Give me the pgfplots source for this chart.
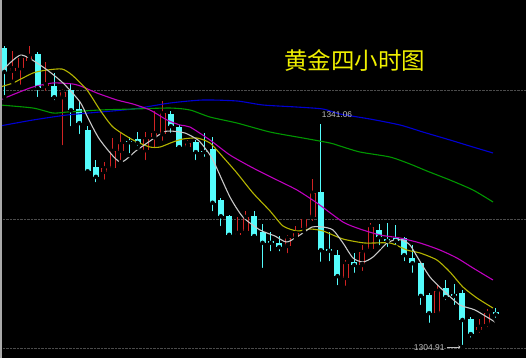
\documentclass[border=0pt]{standalone}
\usepackage{pgfplots}
\pgfplotsset{compat=1.18}
\usepackage{pgfplotstable}
\usetikzlibrary{arrows.meta}
\usepackage{fontspec}
\setmainfont{Liberation Sans}
\newfontfamily\cjk{Noto Sans CJK SC}
\definecolor{cyanC}{RGB}{84,252,252}
\definecolor{redC}{RGB}{210,35,35}
\definecolor{grayL}{RGB}{200,200,200}
\definecolor{yellowL}{RGB}{180,180,0}
\definecolor{magL}{RGB}{190,0,190}
\definecolor{greenL}{RGB}{0,150,0}
\definecolor{blueL}{RGB}{0,0,210}
\definecolor{titleC}{RGB}{240,240,0}
\definecolor{labC}{RGB}{190,190,190}
\definecolor{gridC}{RGB}{75,75,75}
\definecolor{edgeC}{RGB}{170,170,170}

% up (red, hollow) candles: index open high low close
\pgfplotstableread{
i o h l c
1 1349.7 1352.9 1347.9 1350.1
2 1350.1 1352.2 1347.1 1351.8
3 1351.3 1353.7 1351.0 1352.1
5 1347.2 1351.1 1346.1 1347.5
7 1345.4 1346.7 1337.3 1346.3
12 1333.3 1334.9 1331.7 1333.9
13 1333.9 1338.8 1333.3 1336.7
14 1336.7 1339.8 1334.9 1337.8
17 1336.8 1339.8 1334.9 1338.6
18 1338.9 1343.2 1336.8 1339.6
19 1339.4 1344.8 1338.0 1342.8
22 1337.3 1338.5 1336.7 1338.0
28 1323.1 1326.0 1322.9 1323.4
29 1323.7 1327.0 1323.1 1326.0
34 1321.3 1323.1 1319.8 1322.6
35 1322.7 1324.5 1322.3 1323.4
36 1324.2 1326.0 1323.6 1325.7
37 1326.0 1332.1 1325.0 1329.9
41 1316.1 1319.0 1314.5 1318.4
43 1318.2 1321.4 1316.9 1320.3
44 1320.8 1325.0 1320.1 1324.4
52 1310.4 1315.0 1309.8 1314.0
57 1307.7 1309.5 1306.9 1308.2
58 1308.6 1311.1 1307.8 1310.4
}\up

% down (cyan, filled) candles: index open high low close
\pgfplotstableread{
i o h l c
0 1353.4 1353.7 1345.4 1349.5
4 1352.4 1352.7 1345.1 1346.9
6 1347.2 1349.3 1344.6 1345.4
8 1346.6 1347.7 1340.4 1343.3
9 1343.5 1344.6 1339.1 1341.2
10 1340.1 1340.7 1332.8 1333.4
11 1334.1 1335.2 1331.3 1332.5
15 1338.3 1338.9 1336.0 1338.1
16 1338.6 1339.8 1337.2 1338.0
20 1342.7 1343.2 1339.3 1340.7
21 1340.6 1340.9 1336.8 1337.3
23 1338.1 1338.5 1334.9 1336.5
24 1336.7 1339.6 1335.4 1336.5
25 1337.0 1338.9 1326.6 1328.3
26 1328.7 1329.1 1324.2 1326.1
27 1326.1 1326.3 1322.9 1323.1
30 1326.1 1327.0 1322.6 1322.9
31 1323.6 1324.9 1317.4 1321.8
32 1322.1 1323.6 1320.1 1321.8
33 1321.8 1322.9 1320.1 1321.1
38 1330.0 1341.06 1318.4 1320.6
39 1320.8 1323.6 1318.5 1320.5
40 1319.8 1320.6 1314.6 1316.4
42 1318.7 1320.2 1316.6 1318.2
45 1323.9 1324.9 1321.1 1322.7
46 1322.4 1325.0 1320.8 1322.1
47 1322.6 1324.7 1321.1 1322.1
48 1322.6 1322.7 1318.5 1319.8
49 1319.3 1321.4 1316.6 1318.5
50 1318.5 1318.7 1311.4 1313.2
51 1313.3 1313.7 1308.5 1310.4
53 1314.5 1315.8 1312.2 1313.0
54 1313.5 1315.1 1311.4 1313.2
55 1313.7 1314.2 1304.91 1309.3
56 1309.5 1309.8 1306.1 1307.0
59 1310.6 1311.2 1309.3 1310.2
}\down

\begin{document}
\begin{tikzpicture}
\begin{axis}[
  scale only axis, width=526pt, height=358pt,
  xmin=-0.516, xmax=62.63, ymin=1303.13, ymax=1361.16,
  axis background/.style={fill=black},
  axis line style={draw=none},
  xtick=\empty, ytick={1304.75,1325.66,1346.57}, yticklabels={},
  yticklabel style={overlay},
  major tick length=0pt,
  ymajorgrids, grid style={densely dotted, draw=gridC, line width=0.8pt},
  candle/.style={only marks, mark=none, forget plot,
    error bars/y dir=plus, error bars/y explicit, error bars/error mark=none},
]
% cyan candles
\addplot[candle, error bars/error bar style={draw=cyanC, line width=1pt}]
  table[x=i, y=l, y error plus expr={\thisrow{h}-\thisrow{l}}] {\down};
\addplot[candle, error bars/error bar style={draw=cyanC, line width=6pt}]
  table[x=i, y=c, y error plus expr={max(\thisrow{o}-\thisrow{c},0.18)}] {\down};
% red candles
\addplot[candle, error bars/error bar style={draw=redC, line width=1pt}]
  table[x=i, y=l, y error plus expr={\thisrow{o}-\thisrow{l}}] {\up};
\addplot[candle, error bars/error bar style={draw=redC, line width=1pt}]
  table[x=i, y=c, y error plus expr={\thisrow{h}-\thisrow{c}}] {\up};
\addplot[candle, error bars/error bar style={draw=redC, line width=6pt}]
  table[x=i, y=o, y error plus expr={max(\thisrow{c}-\thisrow{o},0.18)}] {\up};
\addplot[candle, error bars/error bar style={draw=black, line width=4pt}]
  table[x=i, y expr={\thisrow{o}+0.165}, y error plus expr={max(\thisrow{c}-\thisrow{o}-0.33,0)}] {\up};

% moving average lines
\addplot[blueL, line width=1.1pt, smooth, tension=0.4] coordinates {
(-0.52,1340.74) (3.45,1341.71) (7.53,1342.52) (11.49,1343.00) (15.45,1343.49)
(19.89,1344.46) (23.85,1344.95) (27.93,1344.79) (31.06,1344.14) (35.14,1343.81)
(38.26,1343.49) (40.30,1342.68) (43.90,1341.87) (47.50,1340.90) (50.26,1339.76)
(53.50,1338.47) (56.27,1337.33) (58.67,1336.36)};
\addplot[greenL, line width=1.1pt, smooth, tension=0.4] coordinates {
(-0.52,1344.14) (3.45,1343.65) (5.85,1342.84) (7.53,1343.00) (11.49,1343.33)
(15.45,1343.49) (19.89,1343.65) (22.29,1343.33) (24.69,1342.19) (27.93,1341.22)
(31.90,1339.76) (35.86,1338.79) (39.10,1337.98) (40.30,1337.49) (42.70,1336.52)
(46.30,1335.71) (48.70,1334.58) (50.74,1333.44) (53.50,1331.98) (56.27,1330.36)
(58.67,1328.42)};
\addplot[magL, line width=1.1pt, smooth, tension=0.4] coordinates {
(-0.52,1344.95) (1.52,1346.08) (3.45,1347.06) (5.85,1347.71) (8.25,1347.54)
(9.45,1347.06) (11.13,1346.08) (13.53,1344.95) (15.45,1344.30) (17.49,1343.33)
(19.53,1341.71) (21.09,1340.90) (22.29,1340.57) (24.69,1338.47) (27.09,1336.03)
(29.86,1333.93) (32.74,1331.98) (35.14,1330.36) (37.54,1328.25) (40.66,1325.17)
(42.70,1324.04) (45.10,1323.07) (47.50,1322.58) (49.92,1321.77) (52.30,1320.63)
(54.34,1319.34) (56.27,1317.72) (58.67,1315.77)};
\addplot[yellowL, line width=1.1pt, smooth, tension=0.4] coordinates {
(-0.52,1347.06) (1.04,1347.71) (3.45,1349.33) (5.13,1349.81) (6.93,1349.97)
(8.13,1349.00) (9.93,1346.57) (11.49,1343.33) (13.05,1340.57) (15.45,1338.47)
(17.49,1337.33) (18.69,1337.33) (20.25,1338.14) (21.45,1338.63) (23.13,1338.79)
(24.69,1337.98) (26.25,1335.71) (27.93,1333.12) (29.86,1329.87) (31.90,1326.96)
(33.46,1324.53) (35.14,1323.72) (36.70,1324.04) (38.26,1323.72) (40.66,1322.42)
(43.30,1321.77) (46.30,1321.77) (48.34,1320.63) (49.92,1320.15) (51.94,1319.01)
(53.50,1317.07) (55.06,1314.64) (56.75,1312.85) (58.67,1311.23)};
\addplot[grayL, line width=1.1pt, smooth, tension=0.4] coordinates {
(-0.16,1349.81) (2.00,1352.24) (4.65,1350.30) (7.05,1347.71) (9.09,1344.63)
(10.05,1342.03) (11.49,1338.47) (13.89,1334.90) (15.93,1336.84) (18.93,1339.60)
(19.89,1339.92) (21.69,1339.60) (23.25,1338.47) (24.09,1337.17) (25.05,1335.22)
(27.09,1329.23) (28.65,1325.98) (30.70,1323.88) (32.50,1322.90) (33.94,1321.93)
(35.86,1323.39) (36.94,1324.36) (38.26,1324.36) (39.46,1323.88) (40.66,1321.77)
(41.86,1319.34) (43.06,1318.69) (44.26,1319.50) (45.94,1321.77) (46.90,1322.26)
(47.74,1322.26) (48.70,1321.45) (49.66,1319.34) (51.10,1316.26) (52.90,1313.83)
(54.70,1311.72) (56.51,1310.91) (58.91,1308.96)};

% left edge line
\draw[edgeC, line width=1.5pt] (rel axis cs:0.0015,0) -- (rel axis cs:0.0015,1);

% texts
\node[text=titleC, font=\cjk\fontsize{23.5}{26}\selectfont] at (axis cs:42.1,1351.43) {黄金四小时图};
\node[text=labC, font=\fontsize{8.3}{9}\selectfont] at (axis cs:39.94,1342.5) {1341.06};
\node[text=labC, font=\fontsize{8.5}{9}\selectfont, anchor=east, inner sep=1pt] at (axis cs:53.0,1304.85) {1304.91};
\draw[labC, line width=0.7pt, -{Stealth[length=3pt,width=3pt]}] (axis cs:53.1,1304.91) -- (axis cs:54.85,1304.91);
\end{axis}
\pgfresetboundingbox
\path[use as bounding box] (current axis.south west) rectangle (current axis.north east);
\end{tikzpicture}
\end{document}
